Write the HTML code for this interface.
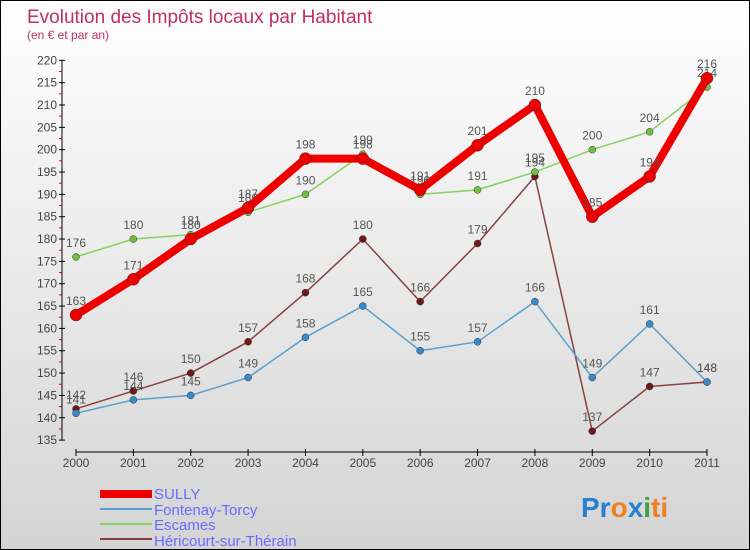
<!DOCTYPE html>
<html><head><meta charset="utf-8"><style>
body{margin:0}
#c{width:748px;height:548px;border:1px solid #000;background:linear-gradient(#fff,#d4d4d4);position:relative;font-family:"Liberation Sans",sans-serif;overflow:hidden}
</style></head><body>
<div id="c">
<svg id="s" width="748" height="548" style="position:absolute;left:0;top:0">
<text x="26" y="22" font-size="19" fill="#c0305a">Evolution des Impôts locaux par Habitant</text>
<text x="26" y="38" font-size="12" fill="#c0305a">(en € et par an)</text>
<g id="axes"></g><g id="series"></g>
<g font-size="15" fill="#6a6aff">
<rect x="99" y="489" width="52" height="8" fill="#e00"/>
<text x="153" y="498">SULLY</text>
<rect x="99" y="507" width="52" height="2" fill="#5aa0d0"/>
<text x="153" y="514">Fontenay-Torcy</text>
<rect x="99" y="522" width="52" height="2" fill="#88d060"/>
<text x="153" y="529">Escames</text>
<rect x="99" y="537" width="52" height="2" fill="#8a4040"/>
<text x="153" y="545">Héricourt-sur-Thérain</text>
</g>
<text x="580" y="516" font-size="28" font-weight="bold"><tspan fill="#2a80d0">Pr</tspan><tspan fill="#f08020">o</tspan><tspan fill="#2a80d0">x</tspan><tspan fill="#40a040">i</tspan><tspan fill="#f08020">ti</tspan></text>
</svg>
</div>
<script>
const years=["2000","2001","2002","2003","2004","2005","2006","2007","2008","2009","2010","2011"];
const sully=[163,171,180,187,198,198,191,201,210,185,194,216];
const fontenay=[141,144,145,149,158,165,155,157,166,149,161,148];
const escames=[176,180,181,186,190,199,190,191,195,200,204,214];
const hericourt=[142,146,150,157,168,180,166,179,194,137,147,148];
const yTicks=[135,140,145,150,155,160,165,170,175,180,185,190,195,200,205,210,215,220];
const NS="http://www.w3.org/2000/svg";
const x=i=>75+i*(706-75)/11;
const y=v=>104+(210-v)*4.468;
function mk(t,a,p){const e=document.createElementNS(NS,t);for(const k in a)e.setAttribute(k,a[k]);p.appendChild(e);return e;}
const ax=document.getElementById('axes');
const yl=mk('line',{x1:61,y1:y(220),x2:61,y2:y(135),stroke:'#000'},ax);


yTicks.forEach(v=>{
 mk('line',{x1:58,x2:64,y1:y(v),y2:y(v),stroke:'#000'},ax);
 if(v<220)mk('line',{x1:58,x2:61,y1:y(v+2.5),y2:y(v+2.5),stroke:'#e00'},ax);
 const t=mk('text',{x:56,y:y(v)+4,'font-size':12,'text-anchor':'end',fill:'#444'},ax);t.textContent=v;
 
 
});
const xl=mk('line',{x1:75,y1:451,x2:706,y2:451,stroke:'#000'},ax);


years.forEach((yr,i)=>{
 mk('line',{x1:x(i),x2:x(i),y1:448,y2:455,stroke:'#000'},ax);
 const t=mk('text',{x:x(i),y:466,'font-size':12,'text-anchor':'middle',fill:'#444'},ax);t.textContent=yr;
 
 
});
const sg=document.getElementById('series');
function draw(name,data,color,w,r,dot){
 const g=mk('g',{},sg);
 
 
 mk('polyline',{points:data.map((v,i)=>x(i)+','+y(v)).join(' '),fill:'none',stroke:color,'stroke-width':w,'stroke-linejoin':'round'},g);
 data.forEach((v,i)=>{
  const c=mk('circle',{cx:x(i),cy:y(v),r:r,fill:dot,stroke:'#333','stroke-width':0.5},g);
  
  
  const t=mk('text',{x:x(i),y:y(v)-10,'font-size':12,'text-anchor':'middle',fill:'#555'},g);t.textContent=v;
  
  
 });
}
draw('hericourt',hericourt,'#8a4040',1.5,3.5,'#6a1a1a');
draw('fontenay',fontenay,'#5aa0d0',1.5,3.5,'#3a8ac8');
draw('escames',escames,'#88d060',1.5,3.5,'#70c040');
draw('sully',sully,'#ee0000',8,6,'#ee0000');
</script>
</body></html>
